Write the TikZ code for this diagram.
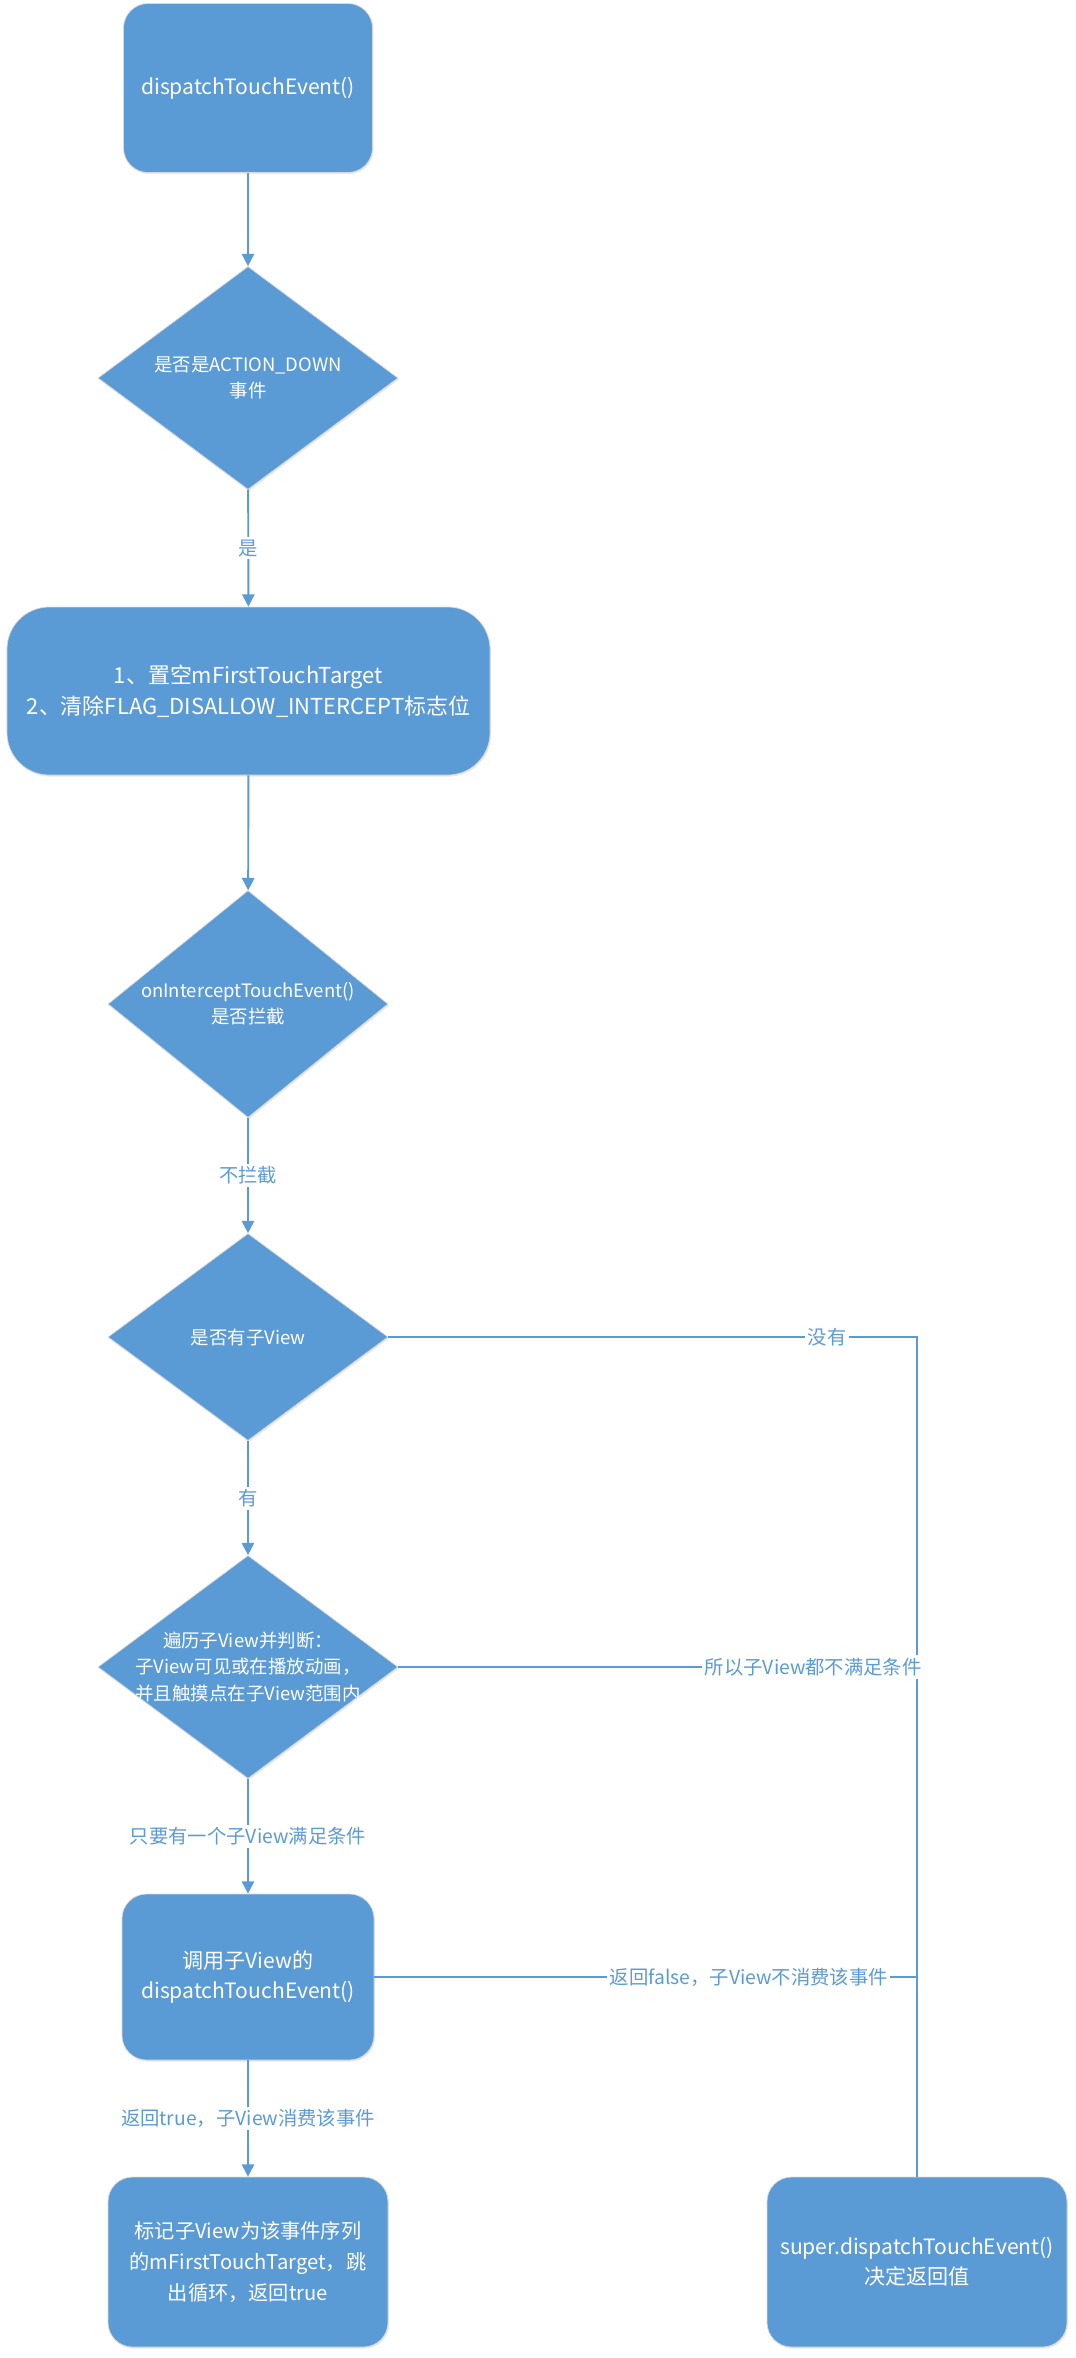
\documentclass[tikz,border=0pt]{standalone}
\usepackage{fontspec}
\setmainfont{Noto Sans CJK SC}
\usetikzlibrary{shapes.geometric,arrows.meta,shadows}
\definecolor{flowblue}{HTML}{5B9BD5}
\tikzset{
  procbox/.style={draw=black!15, fill=flowblue, rounded corners=14pt, text=white, align=center,
    font=\fontsize{12}{17}\selectfont, inner sep=2pt,
    drop shadow={opacity=0.18, shadow xshift=0.6pt, shadow yshift=-0.9pt}},
  decision/.style={diamond, draw=black!15, fill=flowblue, inner sep=0pt,
    drop shadow={opacity=0.18, shadow xshift=0.6pt, shadow yshift=-0.9pt}},
  dtext/.style={text=white, align=center, font=\fontsize{10.5}{15}\selectfont},
  flowline/.style={draw=flowblue, line width=1.1pt},
  flowarrow/.style={flowline, -{Triangle[width=7pt,length=7pt]}},
  lbl/.style={fill=white, text=flowblue, font=\fontsize{11}{13}\selectfont, inner sep=1.5pt},
}
\begin{document}
\begin{tikzpicture}
  \useasboundingbox (0,0) rectangle (21.5,-47.16);
  % main column
  \node[procbox,minimum width=4.98cm,minimum height=3.38cm] (start) at (4.96,-1.76) {dispatchTouchEvent()};
  \node[decision,minimum width=6cm,minimum height=4.46cm,
        label={[dtext]center:{是否是ACTION\_DOWN\\事件}}] (isdown) at (4.96,-7.56) {};
  \node[procbox,rounded corners=24pt,minimum width=9.66cm,minimum height=3.36cm,
        font=\fontsize{12.5}{17.5}\selectfont] (reset) at (4.97,-13.82)
        {1、置空mFirstTouchTarget\\2、清除FLAG\_DISALLOW\_INTERCEPT标志位};
  \node[decision,minimum width=5.6cm,minimum height=4.54cm,
        label={[dtext]center:{onInterceptTouchEvent()\\是否拦截}}] (intercept) at (4.96,-20.08) {};
  \node[decision,minimum width=5.6cm,minimum height=4.14cm,
        label={[dtext]center:{是否有子View}}] (haschild) at (4.96,-26.74) {};
  \node[decision,minimum width=6cm,minimum height=4.46cm,
        label={[dtext]center:{遍历子View并判断：\\子View可见或在播放动画，\\并且触摸点在子View范围内}}] (loop) at (4.96,-33.34) {};
  \node[procbox,minimum width=5.04cm,minimum height=3.32cm] (callchild) at (4.96,-39.54)
        {调用子View的\\dispatchTouchEvent()};
  \node[procbox,minimum width=5.6cm,minimum height=3.4cm,font=\fontsize{11.5}{17.5}\selectfont] (mark) at (4.96,-45.24)
        {标记子View为该事件序列\\的mFirstTouchTarget，跳\\出循环，返回true};
  % right column
  \node[procbox,minimum width=6cm,minimum height=3.4cm] (super) at (18.34,-45.24)
        {super.dispatchTouchEvent()\\决定返回值};

  \draw[flowarrow] (start) -- (isdown);
  \draw[flowarrow] (isdown) -- node[lbl] {是} (reset);
  \draw[flowarrow] (reset) -- (intercept);
  \draw[flowarrow] (intercept) -- node[lbl] {不拦截} (haschild);
  \draw[flowarrow] (haschild) -- node[lbl] {有} (loop);
  \draw[flowarrow] (loop) -- node[lbl] {只要有一个子View满足条件} (callchild);
  \draw[flowarrow] (callchild) -- node[lbl] {返回true，子View消费该事件} (mark);

  \draw[flowline] (haschild.east) -| node[lbl,pos=0.415] {没有} (super.north);
  \draw[flowline] (loop.east) -- node[lbl,pos=0.8] {所以子View都不满足条件} (loop.east -| super.north);
  \draw[flowline] (callchild.east) -- node[lbl,pos=0.69] {返回false，子View不消费该事件} (callchild.east -| super.north);
\end{tikzpicture}
\end{document}
